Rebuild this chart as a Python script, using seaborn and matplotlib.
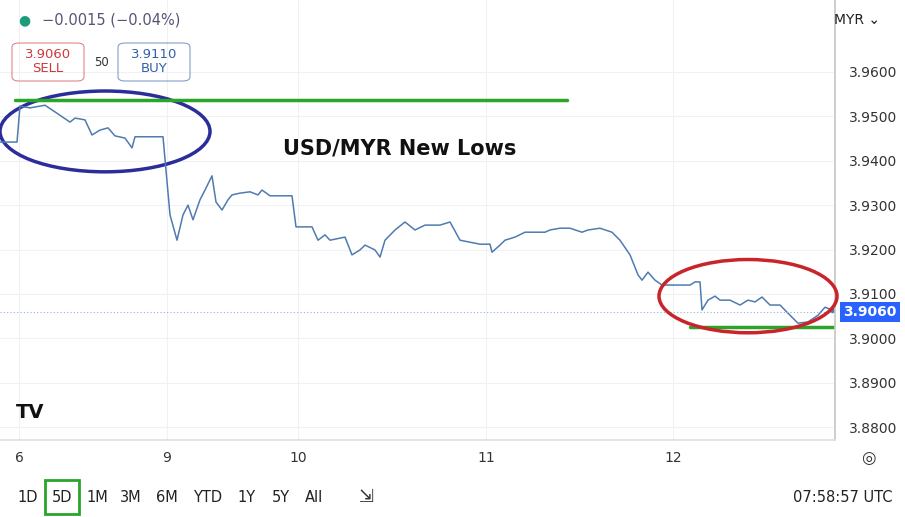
import numpy as np
import pandas as pd
import matplotlib.pyplot as plt
import seaborn as sns
from matplotlib.patches import Ellipse, FancyBboxPatch

sns.set_theme(style="white")
plt.rcParams['font.family'] = ['DejaVu Sans']

# time axis in chart units (session positions), price values
t = [0, 17, 20, 30, 45, 55, 70, 75, 85, 92, 100, 108, 115, 125, 132, 135, 163,
     170, 177, 183, 188, 193, 200, 205, 212, 216, 222, 228, 232, 240, 250, 258,
     262, 270, 292, 296, 312, 318, 325, 330, 345, 352, 360, 365, 375, 380, 385,
     395, 405, 415, 425, 440, 450, 460, 480, 490, 492, 500, 505, 515, 525, 545,
     550, 560, 570, 582, 588, 600, 612, 620, 630, 638, 642, 648, 655, 662, 690,
     695, 700, 702, 708, 715, 720, 730, 740, 748, 755, 762, 770, 780, 790, 798,
     808, 818, 825, 832]
price = [3.9442, 3.9442, 3.9523, 3.9519, 3.9525, 3.9510, 3.9487, 3.9496, 3.9492,
         3.9458, 3.9469, 3.9474, 3.9456, 3.9451, 3.9429, 3.9454, 3.9454,
         3.9278, 3.9221, 3.9278, 3.9300, 3.9267, 3.9312, 3.9334, 3.9366, 3.9307,
         3.9289, 3.9312, 3.9323, 3.9327, 3.9330, 3.9323, 3.9334, 3.9321, 3.9321,
         3.9251, 3.9251, 3.9221, 3.9233, 3.9221, 3.9228, 3.9188, 3.9199, 3.9210,
         3.9199, 3.9183, 3.9221, 3.9244, 3.9262, 3.9244, 3.9255, 3.9255, 3.9262,
         3.9221, 3.9212, 3.9212, 3.9194, 3.9210, 3.9221, 3.9228, 3.9239, 3.9239,
         3.9244, 3.9248, 3.9248, 3.9239, 3.9244, 3.9248, 3.9239, 3.9221, 3.9188,
         3.9143, 3.9131, 3.9149, 3.9131, 3.9120, 3.9120, 3.9127, 3.9127, 3.9064,
         3.9086, 3.9095, 3.9086, 3.9086, 3.9075, 3.9086, 3.9082, 3.9093, 3.9075,
         3.9075, 3.9052, 3.9034, 3.9037, 3.9052, 3.9070, 3.9064]
day_pos = [19, 167, 298, 486, 673]
day_labels = ["6", "9", "10", "11", "12"]
y_ticks = [3.88, 3.89, 3.90, 3.91, 3.92, 3.93, 3.94, 3.95, 3.96]
last_price = 3.9060
resistance = 3.9537
support = 3.9025

df = pd.DataFrame({"t": t, "price": price})

fig = plt.figure(figsize=(9.05, 5.17), dpi=100)
ax = fig.add_axes([0, 77 / 517, 835 / 905, 440 / 517])
ax.set_xlim(0, 835)
ax.set_ylim(3.8771, 3.9762)

for y in y_ticks:
    ax.axhline(y, color="#f0f1f4", lw=0.8, zorder=0)
for x in day_pos:
    ax.axvline(x, color="#f0f1f4", lw=0.8, zorder=0)

sns.lineplot(data=df, x="t", y="price", ax=ax, color="#4f7bb0", lw=1.1)
ax.plot(t[-1], price[-1], "o", color="#4f7bb0", ms=3)
ax.axhline(last_price, color="#8fb0e0", lw=0.8, ls=(0, (1, 2)))

ax.plot([15, 567], [resistance, resistance], color="#2aa52a", lw=2.5)
ax.plot([690, 835], [support, support], color="#2aa52a", lw=2.5)

ax.add_patch(Ellipse((105, 3.9466), 210, 0.0182, fill=False, ec="#2a2d9a", lw=2.5))
ax.add_patch(Ellipse((748, 3.9095), 178, 0.0165, fill=False, ec="#c8242a", lw=2.5,
                     clip_on=False, zorder=5))

ax.text(400, 3.9427, "USD/MYR New Lows", ha="center", va="center",
        fontsize=15, fontweight="bold", color="#111111")

ax.set_xticks(day_pos)
ax.set_xticklabels(day_labels, fontsize=10, color="#333333")
ax.tick_params(axis="x", length=0, pad=8)
ax.yaxis.tick_right()
ax.set_yticks(y_ticks)
ax.set_yticklabels([f"{v:.4f}" for v in y_ticks], fontsize=10, color="#333333")
ax.tick_params(axis="y", length=0, pad=10)
ax.set_xlabel("")
ax.set_ylabel("")
for s in ["top", "left"]:
    ax.spines[s].set_visible(False)
ax.spines["right"].set_color("#c8c8c8")
ax.spines["bottom"].set_color("#e0e0e0")

# current price label on right axis
fig.text(870 / 905, 1 - 312 / 517, f"{last_price:.4f}", ha="center", va="center",
         fontsize=10, fontweight="bold", color="white",
         bbox=dict(boxstyle="square,pad=0.25", fc="#2962ff", ec="none"))
fig.text(857 / 905, 1 - 20 / 517, "MYR ⌄", ha="center", va="center", fontsize=10, color="#222222")

# header
fig.text(18 / 905, 1 - 20 / 517, "●", color="#1e9c7a", fontsize=10, va="center")
fig.text(42 / 905, 1 - 20 / 517, "−0.0015 (−0.04%)", color="#555577", fontsize=10.5, va="center")
for x0, txt, col in [(12, "3.9060\nSELL", "#d0383e"), (118, "3.9110\nBUY", "#3160a8")]:
    fig.patches.append(FancyBboxPatch((x0 / 905, 1 - 81 / 517), 72 / 905, 38 / 517,
                                      boxstyle="round,pad=0,rounding_size=0.008",
                                      transform=fig.transFigure, fill=False,
                                      ec=col, lw=0.8, alpha=0.6))
    fig.text((x0 + 36) / 905, 1 - 62 / 517, txt, ha="center", va="center",
             color=col, fontsize=9.5, linespacing=1.1)
fig.text(101 / 905, 1 - 62 / 517, "50", ha="center", va="center", fontsize=8.5, color="#333333")

fig.text(16 / 905, 1 - 413 / 517, "TV", fontsize=14, fontweight="bold", color="#111111", va="center")

# bottom toolbar
for label, xp in zip(["1D", "5D", "1M", "3M", "6M", "YTD", "1Y", "5Y", "All"],
                     [28, 62, 97, 131, 167, 208, 246, 281, 314]):
    fig.text(xp / 905, 1 - 497 / 517, label, ha="center", va="center", fontsize=10.5, color="#222222")
fig.patches.append(plt.Rectangle((45 / 905, 1 - 514 / 517), 34 / 905, 34 / 517,
                                 transform=fig.transFigure, fill=False, ec="#2aa52a", lw=2))
fig.text(366 / 905, 1 - 497 / 517, "⇲", ha="center", va="center", fontsize=13, color="#333333")
fig.text(892 / 905, 1 - 497 / 517, "07:58:57 UTC", ha="right", va="center", fontsize=10.5, color="#222222")
fig.text(868 / 905, 1 - 458 / 517, "◎", ha="center", va="center", fontsize=12, color="#333333")

fig.savefig("out.png", dpi=100)
